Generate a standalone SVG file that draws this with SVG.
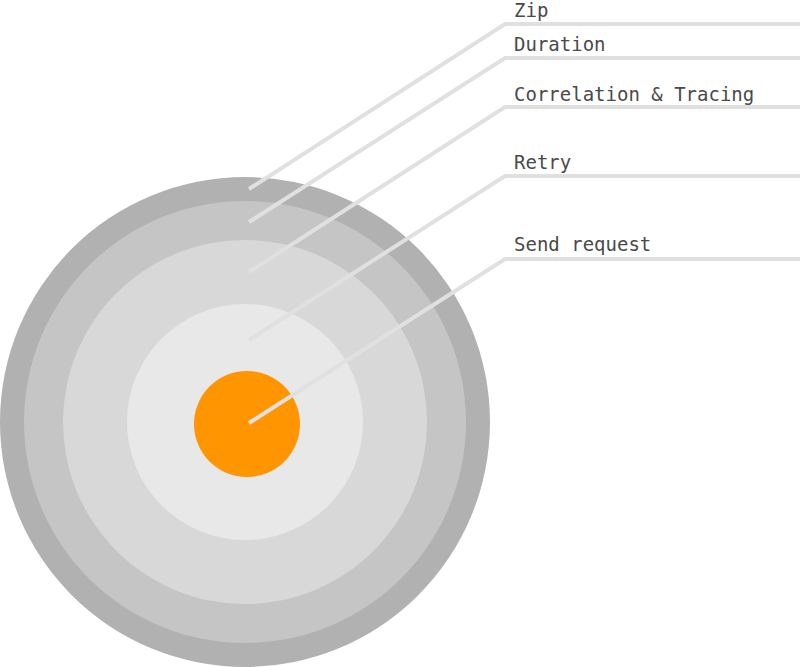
<svg xmlns="http://www.w3.org/2000/svg" width="800" height="667" viewBox="0 0 800 667">
<style>
.lbl{font-family:"DejaVu Sans Mono","Liberation Mono",monospace;font-size:19px;fill:#4a4a4a}
.con{fill:none;stroke:#e0e0e0;stroke-width:4}
</style>
<rect width="800" height="667" fill="#ffffff"/>
<g id="layer-zip"><circle cx="245" cy="422" r="245" fill="#b1b1b1"/></g>
<g id="layer-duration"><circle cx="245" cy="422" r="221" fill="#c5c5c5"/></g>
<g id="layer-correlation"><circle cx="245" cy="422" r="182" fill="#d8d8d8"/></g>
<g id="layer-retry"><circle cx="245" cy="422" r="118" fill="#e8e8e8"/></g>
<g id="layer-send"><circle cx="247" cy="424" r="53" fill="#ff9500"/></g>
<g id="connectors">
<polyline class="con" points="249,189 505,24 800,24"/>
<polyline class="con" points="249,222 505,58 800,58"/>
<polyline class="con" points="249,272 505,107 800,107"/>
<polyline class="con" points="249,340 505,176 800,176"/>
<polyline class="con" points="249,423 505,259 800,259"/>
</g>
<g id="labels">
<text class="lbl" x="514" y="17">Zip</text>
<text class="lbl" x="514" y="51">Duration</text>
<text class="lbl" x="514" y="101">Correlation &amp; Tracing</text>
<text class="lbl" x="514" y="169">Retry</text>
<text class="lbl" x="514" y="251">Send request</text>
</g>
</svg>
